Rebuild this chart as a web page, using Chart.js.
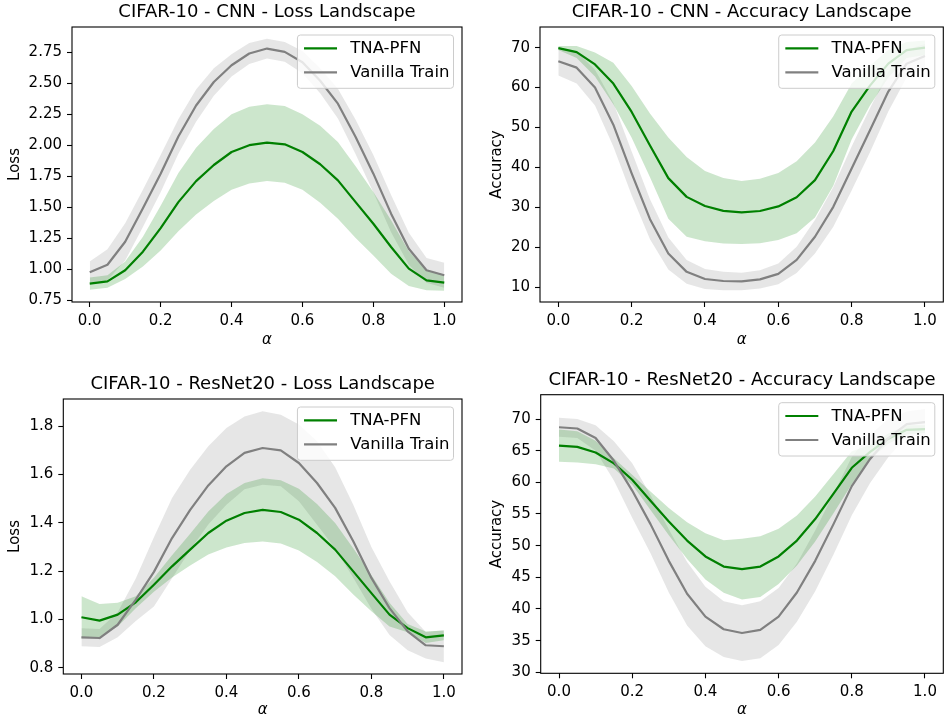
<!DOCTYPE html>
<html><head><meta charset="utf-8">
<script src="https://cdn.jsdelivr.net/npm/chart.js@4.4.0/dist/chart.umd.min.js"></script>
<style>
html,body{margin:0;padding:0;background:#fff;width:945px;height:719px;overflow:hidden}
canvas{position:absolute}
</style></head><body>
<canvas id="c1"></canvas><canvas id="c2"></canvas><canvas id="c3"></canvas><canvas id="c4"></canvas>
<script>
// ---------- data ----------
const alpha = [0, 0.05, 0.1, 0.15, 0.2, 0.25, 0.3, 0.35, 0.4, 0.45, 0.5, 0.55, 0.6, 0.65, 0.7, 0.75, 0.8, 0.85, 0.9, 0.95, 1.0];
const xTicks = [0, 0.2, 0.4, 0.6, 0.8, 1.0];
const seriesNames = ['TNA-PFN', 'Vanilla Train'];

// CIFAR-10 - CNN - Loss
const cnnLossTicks = [0.75, 1.0, 1.25, 1.5, 1.75, 2.0, 2.25, 2.5, 2.75];
const cnnLossTnaMean  = [0.882, 0.90, 0.99, 1.14, 1.33, 1.54, 1.71, 1.84, 1.945, 2.0, 2.02, 2.007, 1.945, 1.846, 1.716, 1.54, 1.366, 1.178, 1.003, 0.909, 0.89];
const cnnLossTnaUpper = [0.932, 0.95, 1.06, 1.26, 1.51, 1.775, 1.98, 2.13, 2.25, 2.31, 2.33, 2.317, 2.25, 2.156, 2.026, 1.83, 1.622, 1.393, 1.143, 0.989, 0.956];
const cnnLossTnaLower = [0.832, 0.85, 0.92, 1.02, 1.15, 1.305, 1.44, 1.55, 1.64, 1.69, 1.71, 1.697, 1.64, 1.536, 1.406, 1.25, 1.11, 0.963, 0.863, 0.829, 0.824];
const cnnLossVanMean  = [0.975, 1.035, 1.22, 1.49, 1.77, 2.07, 2.32, 2.51, 2.645, 2.74, 2.78, 2.753, 2.67, 2.52, 2.335, 2.066, 1.77, 1.447, 1.164, 0.99, 0.95];
const cnnLossVanUpper = [1.06, 1.16, 1.37, 1.64, 1.92, 2.21, 2.45, 2.62, 2.735, 2.825, 2.86, 2.833, 2.76, 2.62, 2.455, 2.206, 1.92, 1.597, 1.294, 1.09, 1.05];
const cnnLossVanLower = [0.89, 0.91, 1.07, 1.34, 1.62, 1.93, 2.19, 2.40, 2.555, 2.655, 2.70, 2.673, 2.58, 2.42, 2.215, 1.926, 1.62, 1.297, 1.034, 0.89, 0.85];

// CIFAR-10 - CNN - Accuracy
const cnnAccTicks = [10, 20, 30, 40, 50, 60, 70];
const cnnAccTnaMean  = [69.9, 68.9, 65.8, 61.0, 53.9, 45.5, 37.3, 32.6, 30.3, 29.1, 28.7, 29.05, 30.2, 32.5, 36.8, 44.1, 54.0, 60.5, 66.0, 69.4, 70.0];
const cnnAccTnaUpper = [70.4, 70.4, 68.8, 66.2, 60.4, 53.5, 47.5, 42.6, 39.1, 37.3, 36.6, 37.15, 38.6, 41.5, 46.2, 52.8, 61.0, 65.5, 69.5, 71.4, 71.8];
const cnnAccTnaLower = [69.4, 67.4, 62.8, 55.8, 47.4, 37.5, 27.1, 22.6, 21.5, 20.9, 20.8, 20.95, 21.8, 23.5, 27.4, 35.4, 47.0, 55.5, 62.5, 67.4, 68.2];
const cnnAccVanMean  = [66.6, 65.0, 60.0, 50.7, 38.5, 27.0, 18.4, 13.8, 12.0, 11.5, 11.4, 11.9, 13.3, 16.8, 22.6, 30.1, 39.7, 49.3, 59.0, 66.0, 67.9];
const cnnAccVanUpper = [70.2, 69.0, 64.5, 56.2, 44.0, 32.0, 22.4, 16.8, 14.5, 13.8, 13.6, 14.2, 15.9, 20.1, 26.8, 35.1, 45.2, 54.8, 64.0, 69.5, 70.9];
const cnnAccVanLower = [63.0, 61.0, 55.5, 45.2, 33.0, 22.0, 14.4, 10.8, 9.5, 9.2, 9.2, 9.6, 10.7, 13.5, 18.4, 25.1, 34.2, 43.8, 54.0, 62.5, 64.9];

// CIFAR-10 - ResNet20 - Loss
const resLossTicks = [0.8, 1.0, 1.2, 1.4, 1.6, 1.8];
const resLossTnaMean  = [1.009, 0.995, 1.02, 1.071, 1.144, 1.22, 1.289, 1.358, 1.409, 1.441, 1.454, 1.445, 1.413, 1.358, 1.289, 1.199, 1.109, 1.02, 0.964, 0.926, 0.934];
const resLossTnaUpper = [1.096, 1.064, 1.069, 1.096, 1.173, 1.266, 1.355, 1.447, 1.52, 1.565, 1.585, 1.576, 1.541, 1.478, 1.399, 1.295, 1.184, 1.069, 0.981, 0.95, 0.954];
const resLossTnaLower = [0.922, 0.926, 0.971, 1.046, 1.115, 1.174, 1.223, 1.269, 1.298, 1.317, 1.323, 1.314, 1.285, 1.238, 1.179, 1.103, 1.034, 0.971, 0.947, 0.902, 0.914];
const resLossVanMean  = [0.926, 0.923, 0.978, 1.082, 1.197, 1.337, 1.454, 1.555, 1.634, 1.69, 1.71, 1.70, 1.648, 1.565, 1.462, 1.324, 1.172, 1.047, 0.951, 0.893, 0.889];
const resLossVanUpper = [0.964, 0.96, 1.03, 1.17, 1.34, 1.503, 1.62, 1.717, 1.793, 1.841, 1.862, 1.848, 1.807, 1.738, 1.63, 1.475, 1.30, 1.158, 1.03, 0.948, 0.955];
const resLossVanLower = [0.889, 0.886, 0.926, 0.994, 1.054, 1.171, 1.288, 1.393, 1.475, 1.539, 1.558, 1.552, 1.489, 1.392, 1.294, 1.173, 1.044, 0.936, 0.872, 0.838, 0.823];

// CIFAR-10 - ResNet20 - Accuracy
const resAccTicks = [30, 35, 40, 45, 50, 55, 60, 65, 70];
const resAccTnaMean  = [65.8, 65.6, 64.7, 63.0, 60.4, 57.1, 53.8, 50.8, 48.3, 46.7, 46.3, 46.7, 48.3, 50.8, 54.2, 58.2, 62.3, 64.8, 66.9, 68.3, 68.4];
const resAccTnaUpper = [68.35, 68.05, 66.55, 63.8, 61.2, 58.55, 55.95, 53.7, 51.95, 50.85, 51.1, 51.5, 52.65, 54.75, 57.75, 61.3, 64.9, 65.9, 67.7, 69.0, 69.0];
const resAccTnaLower = [63.25, 63.15, 62.85, 62.2, 59.6, 55.65, 51.65, 47.9, 44.65, 42.55, 41.5, 41.9, 43.95, 46.85, 50.65, 55.1, 59.7, 63.7, 66.1, 67.6, 67.8];
const resAccVanMean  = [68.7, 68.5, 67.0, 63.4, 58.7, 53.4, 47.6, 42.4, 38.8, 36.8, 36.2, 36.7, 38.8, 42.6, 47.6, 53.4, 59.4, 63.7, 67.0, 69.2, 69.5];
const resAccVanUpper = [70.2, 70.0, 69.0, 66.5, 63.0, 58.0, 52.6, 47.4, 43.5, 41.2, 40.6, 41.2, 43.3, 47.2, 52.4, 58.2, 64.0, 67.5, 70.0, 71.2, 71.6];
const resAccVanLower = [67.2, 67.0, 65.0, 60.3, 54.4, 48.8, 42.6, 37.4, 34.1, 32.4, 31.8, 32.2, 34.3, 38.0, 42.8, 48.6, 54.8, 59.9, 64.0, 67.2, 67.4];

// ---------- styling / layout ----------
const FONT = '"DejaVu Sans", "Liberation Sans", sans-serif';
const GREEN = '#008000', GRAY = '#808080';
const GREEN_FILL = 'rgba(0,128,0,0.2)', GRAY_FILL = 'rgba(128,128,128,0.2)';
Chart.defaults.font.family = FONT;
Chart.defaults.color = '#000';

const pts = arr => alpha.map((x, i) => ({x: x, y: arr[i]}));

const framePlugin = {
  id: 'frame',
  afterDatasetsDraw(chart) {
    const a = chart.chartArea, ctx = chart.ctx;
    ctx.save();
    ctx.strokeStyle = '#000';
    ctx.lineWidth = 1.1;
    ctx.strokeRect(a.left, a.top, a.right - a.left, a.bottom - a.top);
    ctx.restore();
  }
};

const LEG_FS = 16.5;
const legendPlugin = {
  id: 'mplLegend',
  afterDraw(chart) {
    const ctx = chart.ctx, a = chart.chartArea;
    const items = seriesNames.map(n => chart.data.datasets.find(d => d.label === n));
    ctx.save();
    ctx.font = LEG_FS + 'px ' + FONT;
    const tw = Math.max(...items.map(d => ctx.measureText(d.label).width));
    const padL = 6.6, hl = 33, gap = 13.2, padR = 4;
    const w = padL + hl + gap + tw + padR;
    const h = 53.3;
    const x0 = a.right - 8.5 - w, y0 = a.top + 8;
    const r = 3;
    ctx.beginPath();
    ctx.moveTo(x0 + r, y0);
    ctx.lineTo(x0 + w - r, y0); ctx.arcTo(x0 + w, y0, x0 + w, y0 + r, r);
    ctx.lineTo(x0 + w, y0 + h - r); ctx.arcTo(x0 + w, y0 + h, x0 + w - r, y0 + h, r);
    ctx.lineTo(x0 + r, y0 + h); ctx.arcTo(x0, y0 + h, x0, y0 + h - r, r);
    ctx.lineTo(x0, y0 + r); ctx.arcTo(x0, y0, x0 + r, y0, r);
    ctx.closePath();
    ctx.fillStyle = 'rgba(255,255,255,0.8)';
    ctx.fill();
    ctx.strokeStyle = 'rgb(204,204,204)';
    ctx.lineWidth = 1;
    ctx.stroke();
    items.forEach((d, i) => {
      const y = y0 + 13.3 + 24 * i;
      ctx.beginPath();
      ctx.moveTo(x0 + padL, y); ctx.lineTo(x0 + padL + hl, y);
      ctx.strokeStyle = d.borderColor; ctx.lineWidth = 2.2; ctx.lineCap = 'butt';
      ctx.stroke();
      ctx.fillStyle = '#000';
      ctx.textBaseline = 'middle';
      ctx.textAlign = 'left';
      ctx.fillText(d.label, x0 + padL + hl + gap, y + 0.5);
    });
    ctx.restore();
  }
};

const panels = [
  {id: 'c1', left: 0, top: 0, w: 472, h: 355, area: {l: 72, t: 27, r: 462, b: 302}, yTitleX: 15, xTitleY: 340,
   title: 'CIFAR-10 - CNN - Loss Landscape', yLabel: 'Loss', yMin: 0.734, yMax: 2.954, yTicks: cnnLossTicks, dec: 2,
   tna: [cnnLossTnaMean, cnnLossTnaUpper, cnnLossTnaLower], van: [cnnLossVanMean, cnnLossVanUpper, cnnLossVanLower]},
  {id: 'c2', left: 472, top: 0, w: 473, h: 355, area: {l: 540, t: 27, r: 943.3, b: 302}, yTitleX: 497.5, xTitleY: 340,
   title: 'CIFAR-10 - CNN - Accuracy Landscape', yLabel: 'Accuracy', yMin: 6.24, yMax: 75.19, yTicks: cnnAccTicks, dec: 0,
   tna: [cnnAccTnaMean, cnnAccTnaUpper, cnnAccTnaLower], van: [cnnAccVanMean, cnnAccVanUpper, cnnAccVanLower]},
  {id: 'c3', left: 0, top: 355, w: 472, h: 364, area: {l: 63.3, t: 399, r: 462, b: 674}, yTitleX: 14.7, xTitleY: 710,
   title: 'CIFAR-10 - ResNet20 - Loss Landscape', yLabel: 'Loss', yMin: 0.774, yMax: 1.913, yTicks: resLossTicks, dec: 1,
   tna: [resLossTnaMean, resLossTnaUpper, resLossTnaLower], van: [resLossVanMean, resLossVanUpper, resLossVanLower]},
  {id: 'c4', left: 472, top: 355, w: 473, h: 364, area: {l: 540.7, t: 394.7, r: 943.3, b: 673.3}, yTitleX: 497.5, xTitleY: 711,
   title: 'CIFAR-10 - ResNet20 - Accuracy Landscape', yLabel: 'Accuracy', yMin: 29.84, yMax: 73.84, yTicks: resAccTicks, dec: 0,
   tna: [resAccTnaMean, resAccTnaUpper, resAccTnaLower], van: [resAccVanMean, resAccVanUpper, resAccVanLower]}
];

const TITLE_PAD_TOP = 1.4, TITLE_PAD_BOTTOM = 4, TITLE_SIZE = 18;
const TITLE_H = TITLE_PAD_TOP + TITLE_PAD_BOTTOM + TITLE_SIZE * 1.2;

panels.forEach(p => {
  const cv = document.getElementById(p.id);
  cv.width = p.w; cv.height = p.h;
  cv.style.left = p.left + 'px'; cv.style.top = p.top + 'px';
  cv.style.width = p.w + 'px'; cv.style.height = p.h + 'px';
  const relL = p.area.l - p.left, relT = p.area.t - p.top, relR = p.area.r - p.left, relB = p.area.b - p.top;
  const lineDs = (label, arr, color) => ({label: label, data: pts(arr), borderColor: color, borderWidth: 2.2,
    pointRadius: 0, fill: false, tension: 0, borderJoinStyle: 'round'});
  const bandDs = (arr, fill, bg) => ({label: '', data: pts(arr), borderWidth: 0, borderColor: 'rgba(0,0,0,0)',
    backgroundColor: bg, pointRadius: 0, fill: fill, tension: 0});
  new Chart(cv, {
    type: 'line',
    data: {datasets: [
      lineDs('Vanilla Train', p.van[0], GRAY),
      lineDs('TNA-PFN', p.tna[0], GREEN),
      bandDs(p.tna[1], false, GREEN_FILL),
      bandDs(p.tna[2], '-1', GREEN_FILL),
      bandDs(p.van[1], false, GRAY_FILL),
      bandDs(p.van[2], '-1', GRAY_FILL)
    ]},
    options: {
      responsive: false, animation: false, devicePixelRatio: 1,
      layout: {padding: {left: 0, right: p.w - relR, top: relT - TITLE_H, bottom: 0}},
      plugins: {
        legend: {display: false}, tooltip: {enabled: false},
        filler: {drawTime: 'beforeDatasetsDraw'},
        title: {display: true, text: p.title, fullSize: false, color: '#000',
          font: {family: FONT, size: TITLE_SIZE, weight: 'normal', lineHeight: 1.2},
          padding: {top: TITLE_PAD_TOP, bottom: TITLE_PAD_BOTTOM}}
      },
      scales: {
        x: {type: 'linear', min: -0.05, max: 1.05,
          afterBuildTicks: s => { s.ticks = xTicks.map(v => ({value: v})); },
          afterFit: s => { s.height = p.h - relB; },
          ticks: {callback: v => Number(v).toFixed(1), font: {family: FONT, size: 15}, color: '#000',
            padding: 5, maxRotation: 0, autoSkip: false},
          grid: {drawOnChartArea: false, drawTicks: true, tickLength: 5, tickColor: '#000', tickWidth: 1.1},
          border: {display: false},
          title: {display: true, text: 'α', color: '#000', font: {family: FONT, size: 15, style: 'italic', lineHeight: 1.2},
            padding: {top: 0, bottom: Math.max(0, p.h - (p.xTitleY - p.top) - 9)}}
        },
        y: {type: 'linear', min: p.yMin, max: p.yMax,
          afterBuildTicks: s => { s.ticks = p.yTicks.map(v => ({value: v})); },
          afterFit: s => { s.width = relL; },
          ticks: {callback: v => Number(v).toFixed(p.dec), font: {family: FONT, size: 15}, color: '#000', padding: 5},
          grid: {drawOnChartArea: false, drawTicks: true, tickLength: 5, tickColor: '#000', tickWidth: 1.1},
          border: {display: false},
          title: {display: true, text: p.yLabel, color: '#000', font: {family: FONT, size: 15, lineHeight: 1.2},
            padding: {top: (p.yTitleX - p.left) - 9, bottom: 0}}
        }
      }
    },
    plugins: [framePlugin, legendPlugin]
  });
});
</script>
</body></html>
